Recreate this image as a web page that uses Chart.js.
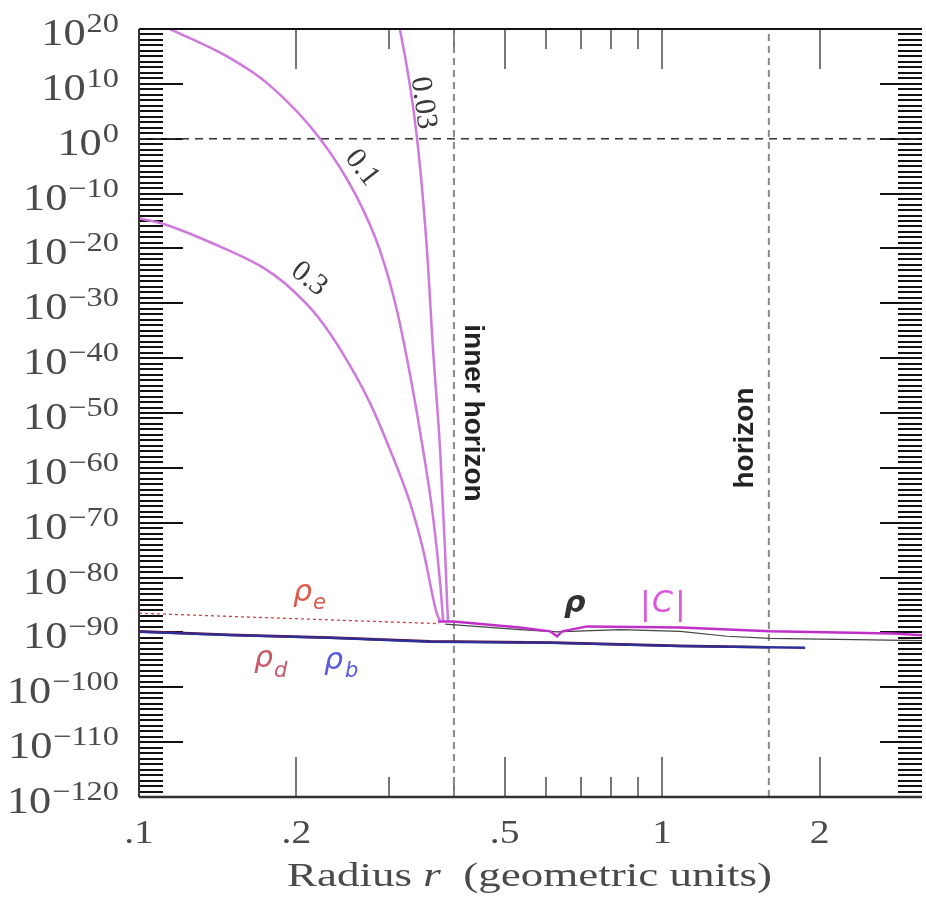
<!DOCTYPE html>
<html lang="en">
<head>
<meta charset="UTF-8">
<title>Radius r (geometric units)</title>
<script src="https://cdn.jsdelivr.net/npm/chart.js"></script>
<style>
  html, body { margin: 0; padding: 0; background: #fff; }
  #wrap { width: 926px; height: 900px; }
</style>
</head>
<body>
<div id="wrap"><canvas id="chart" width="926" height="900"></canvas></div>
<script>
// radius r (geometric units) and the value as a power of ten
const r03 = [0.100, 0.111, 0.1385, 0.1727, 0.1902, 0.2199, 0.2498, 0.2765, 0.3019, 0.3298, 0.3492, 0.3714, 0.3764];
const e03 = [-14.5, -15.5, -19.1, -23.5, -26.4, -32.5, -40.4, -48.2, -56.7, -66.4, -74.9, -86.7, -87.8];

const r01 = [0.100, 0.1157, 0.1493, 0.1765, 0.2219, 0.2611, 0.2889, 0.3113, 0.3312, 0.3492, 0.3649, 0.3764, 0.3814];
const e01 = [22.5, 19.8, 14.7, 10.0, 0, -10.7, -20.4, -31.3, -44.0, -56.7, -68.9, -80.9, -87.8];

const r003 = [0.3087, 0.3155, 0.3401, 0.3553, 0.3649, 0.3764, 0.3846, 0.3880, 0.3897];
const e003 = [22.9, 19.8, 0, -20.4, -38.5, -56.7, -74.9, -84.0, -87.8];

const rC = [0.373, 0.3985, 0.535, 0.611, 0.630, 0.644, 0.719, 1.083, 1.609, 2.765, 3.14];
const eC = [-88.0, -88.0, -89.1, -89.8, -90.7, -89.8, -88.9, -89.1, -89.8, -90.2, -90.5];

const rRhoE = [0.1, 0.2, 0.375];
const eRhoE = [-86.5, -87.5, -88.4];

const rRho = [0.385, 0.535, 0.630, 0.831, 1.083, 1.331, 1.609, 3.14];
const eRho = [-88.5, -89.5, -89.9, -89.5, -89.8, -90.7, -91.1, -91.5];

const rRhoD = [0.1, 0.149, 0.232, 0.360, 0.619, 1.083, 1.6];
const eRhoD = [-89.8, -90.45, -90.95, -91.6, -91.85, -92.45, -92.7];

const rRhoB = [0.1, 0.149, 0.232, 0.360, 0.619, 1.083, 1.877];
const eRhoB = [-89.9, -90.5, -91.0, -91.7, -91.9, -92.5, -92.8];

const innerHorizon = 0.4;
const outerHorizon = 1.6;
const rMin = 0.1, rMax = 3.14;
const eMin = -120, eMax = 20;

const xTickVals = [0.1, 0.2, 0.5, 1, 2];
const xTickText = ['.1', '.2', '.5', '1', '2'];
const xMajor = [0.2, 0.5, 1, 2];
const xMinor = [0.3, 0.4, 0.6, 0.7, 0.8, 0.9];
const yTickExps = [20, 10, 0, -10, -20, -30, -40, -50, -60, -70, -80, -90, -100, -110, -120];

const pts = (rs, es) => rs.map((r, i) => ({ x: r, y: es[i] }));

const SX = 1.2; // the picture is a little wide, text too

function txt(ctx, s, x, y, font, color, align, sx) {
  ctx.save();
  ctx.font = font;
  ctx.fillStyle = color;
  ctx.textAlign = align || 'left';
  ctx.textBaseline = 'alphabetic';
  ctx.translate(x, y);
  ctx.scale(sx || 1, 1);
  ctx.fillText(s, 0, 0);
  ctx.restore();
}

function rtxt(ctx, s, x, y, deg, font, color) {
  ctx.save();
  ctx.translate(x, y);
  ctx.rotate(deg * Math.PI / 180);
  ctx.font = font;
  ctx.fillStyle = color;
  ctx.textAlign = 'center';
  ctx.textBaseline = 'middle';
  ctx.fillText(s, 0, 0);
  ctx.restore();
}

const axesPlugin = {
  id: 'axesPlugin',
  beforeDatasetsDraw(chart) {
    const ctx = chart.ctx, a = chart.chartArea;
    const xs = chart.scales.x, ys = chart.scales.y;
    ctx.save();
    // comb of ticks on the left and right, one per decade
    ctx.strokeStyle = '#111';
    ctx.lineWidth = 2;
    for (let e = eMin; e <= eMax; e++) {
      const y = Math.round(ys.getPixelForValue(e));
      const major = e % 10 === 0;
      ctx.beginPath();
      ctx.moveTo(a.left, y); ctx.lineTo(a.left + (major ? 44 : 24), y);
      ctx.moveTo(a.right, y); ctx.lineTo(a.right - (major ? 42 : 24), y);
      ctx.stroke();
    }
    // radius ticks, top and bottom
    ctx.strokeStyle = '#777';
    ctx.lineWidth = 2;
    xMajor.concat(xMinor).forEach(r => {
      const x = Math.round(xs.getPixelForValue(r));
      const len = xMajor.includes(r) ? 40 : 20;
      ctx.beginPath();
      ctx.moveTo(x, a.bottom); ctx.lineTo(x, a.bottom - len);
      ctx.moveTo(x, a.top); ctx.lineTo(x, a.top + len);
      ctx.stroke();
    });
    ctx.restore();
  },
  afterDraw(chart) {
    const ctx = chart.ctx, a = chart.chartArea;
    const xs = chart.scales.x, ys = chart.scales.y;
    ctx.save();
    // frame
    ctx.lineWidth = 2;
    ctx.strokeStyle = '#111';
    ctx.beginPath(); ctx.moveTo(a.left, a.top); ctx.lineTo(a.right, a.top); ctx.stroke();
    ctx.strokeStyle = '#333';
    ctx.lineWidth = 2.5;
    ctx.beginPath(); ctx.moveTo(a.left, a.bottom); ctx.lineTo(a.right, a.bottom); ctx.stroke();
    ctx.lineWidth = 2;
    ctx.beginPath(); ctx.moveTo(a.left, a.top); ctx.lineTo(a.left, a.bottom); ctx.stroke();

    const grey = '#4a4a4a';
    // y labels 10^n
    yTickExps.forEach(e => {
      const y = ys.getPixelForValue(e);
      const sup = e < 0 ? '\u2212' + (-e) : String(e);
      ctx.font = '27px "Liberation Serif"';
      const w2 = ctx.measureText(sup).width * SX;
      txt(ctx, sup, 119 - w2, y + 3, '27px "Liberation Serif"', grey, 'left', SX);
      txt(ctx, '10', 118 - w2, y + 16, '37px "Liberation Serif"', grey, 'right', SX);
    });
    // x labels
    xTickVals.forEach((r, i) => {
      txt(ctx, xTickText[i], xs.getPixelForValue(r), 843, '33px "Liberation Serif"', grey, 'center', SX);
    });
    // x title
    const f1 = '34px "Liberation Serif"', f2 = 'italic 34px "Liberation Serif"';
    ctx.font = f1;
    const wA = ctx.measureText('Radius ').width;
    const wC = ctx.measureText('  (geometric units)').width;
    ctx.font = f2;
    const wB = ctx.measureText('r').width;
    const sx = 485 / (wA + wB + wC);
    let x0 = 287;
    txt(ctx, 'Radius ', x0, 886, f1, grey, 'left', sx); x0 += wA * sx;
    txt(ctx, 'r', x0, 886, f2, grey, 'left', sx); x0 += wB * sx;
    txt(ctx, '  (geometric units)', x0, 886, f1, grey, 'left', sx);

    // curve labels
    const cf = '30px "Liberation Serif"', cc = '#3a3a3a';
    rtxt(ctx, '0.03', 423, 103, 82, cf, cc);
    rtxt(ctx, '0.1', 362, 168, 52, cf, cc);
    rtxt(ctx, '0.3', 309, 279, 38, cf, cc);

    // horizon labels
    const hf = 'bold 28px "Liberation Sans"', hc = '#222';
    rtxt(ctx, 'inner horizon', 473, 413, 90, hf, hc);
    rtxt(ctx, 'horizon', 745, 438, -90, hf, hc);

    // density labels
    const gf = 'italic 30px "DejaVu Sans"', sf = 'italic 21px "DejaVu Sans"';
    txt(ctx, '\u03c1', 293, 601, gf, '#e05848');
    txt(ctx, 'e', 313, 609, sf, '#e05848');
    txt(ctx, '\u03c1', 254, 667, gf, '#c85868');
    txt(ctx, 'd', 274, 677, sf, '#c85868');
    txt(ctx, '\u03c1', 324, 669, gf, '#5858e0');
    txt(ctx, 'b', 345, 677, sf, '#5858e0');
    txt(ctx, '\u03c1', 564, 612, 'bold italic 30px "DejaVu Sans"', '#333');
    const mc = '#dd55dd';
    txt(ctx, '|', 640, 614, '32px "DejaVu Sans"', mc);
    txt(ctx, 'C', 652, 612, 'italic 30px "DejaVu Sans"', mc);
    txt(ctx, '|', 675, 614, '32px "DejaVu Sans"', mc);
    ctx.restore();
  }
};

const curve = (label, rs, es, color, width, order, extra) => Object.assign({
  label, data: pts(rs, es), borderColor: color, borderWidth: width,
  pointRadius: 0, fill: false, showLine: true, tension: 0, order
}, extra || {});

const smooth = { cubicInterpolationMode: 'monotone' };

new Chart(document.getElementById('chart'), {
  type: 'scatter',
  data: {
    datasets: [
      curve('|C|', rC, eC, '#c030c8', 2.5, 1),
      curve('0.3', r03, e03, '#cf78de', 2.5, 2, smooth),
      curve('0.1', r01, e01, '#cf78de', 2.5, 2, smooth),
      curve('0.03', r003, e003, '#cf78de', 2.5, 2, smooth),
      curve('rho_e', rRhoE, eRhoE, '#d04040', 1.3, 3, { borderDash: [3, 3] }),
      curve('rho', rRho, eRho, '#444', 1.2, 4),
      curve('rho_b', rRhoB, eRhoB, '#2e2e96', 2.4, 5),
      curve('rho_d', rRhoD, eRhoD, '#6a1535', 2.6, 6),
      curve('inner horizon', [innerHorizon, innerHorizon], [eMin, eMax], '#8a8a8a', 2, 10, { borderDash: [7, 5] }),
      curve('horizon', [outerHorizon, outerHorizon], [eMin, eMax], '#8a8a8a', 2, 10, { borderDash: [7, 5] }),
      curve('unity', [rMin, rMax], [0, 0], '#333', 1.6, 10, { borderDash: [8, 6] })
    ]
  },
  options: {
    responsive: false,
    animation: false,
    layout: { padding: { left: 139, right: 4, top: 29, bottom: 103 } },
    plugins: { legend: { display: false }, tooltip: { enabled: false } },
    scales: {
      x: { type: 'logarithmic', min: rMin, max: rMax, bounds: 'data', display: false },
      y: { type: 'linear', min: eMin, max: eMax, display: false }
    }
  },
  plugins: [axesPlugin]
});
</script>
</body>
</html>
